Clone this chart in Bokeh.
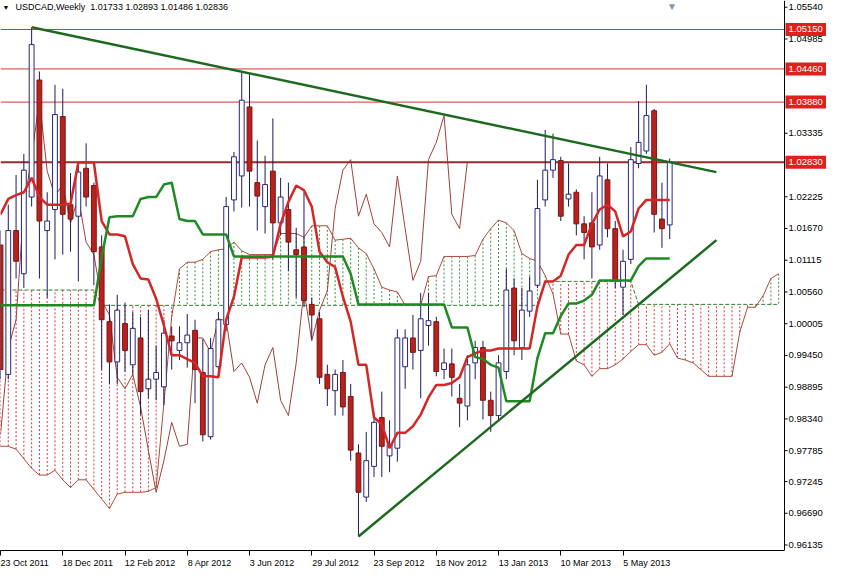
from bokeh.plotting import figure
from bokeh.models import Range1d, FixedTicker, Span
from bokeh.core.properties import value
from bokeh.embed import file_html
from bokeh.resources import INLINE

# ---------------- data (weekly bars, bar index 0 = 23 Oct 2011) ----------------
date_ticks = [0, 8, 16, 24, 32, 40, 48, 56, 64, 72, 80]
date_labels = ["23 Oct 2011", "18 Dec 2011", "12 Feb 2012", "8 Apr 2012", "3 Jun 2012",
               "29 Jul 2012", "23 Sep 2012", "18 Nov 2012", "13 Jan 2013", "10 Mar 2013", "5 May 2013"]

opens = [1.01382, 0.99119, 1.01634, 1.00879, 1.02220, 1.04266, 1.01634, 1.02002, 1.03628, 1.02086,
         1.01885, 1.02723, 1.02421, 1.01348, 1.00041, 0.99337, 1.00007, 0.99286, 0.99756, 0.98867,
         0.99035, 0.98901, 0.99790, 0.99538, 0.99672, 0.99890, 0.99152, 0.98029, 0.99253, 0.99990,
         1.02170, 1.02589, 1.03796, 1.02472, 1.02053, 1.02673, 1.01768, 1.02002, 1.01298, 1.01348,
         1.00343, 1.00091, 0.99119, 0.98834, 0.99152, 0.98733, 0.97744, 0.96973, 0.97510, 0.98364,
         0.97694, 0.97828, 0.99253, 0.99756, 0.99538, 0.99974, 1.00041, 0.99203, 0.99303, 0.98700,
         0.98566, 0.99320, 0.99588, 0.98666, 0.98398, 0.99169, 1.00628, 0.99588, 1.00225, 1.00678,
         1.02170, 1.02690, 1.02857, 1.02187, 1.02304, 1.01751, 1.01768, 1.01382, 1.02522, 1.01667,
         1.00644, 1.01131, 1.02807, 1.03025, 1.03729, 1.01835, 1.01733]
highs = [1.01634, 1.02086, 1.02606, 1.02975, 1.05188, 1.04416, 1.02304, 1.04182, 1.04115, 1.02640,
         1.02807, 1.03159, 1.02472, 1.01550, 1.00343, 1.00510, 1.00376, 1.00209, 1.00125, 1.00242,
         0.99622, 1.00074, 0.99957, 0.99957, 1.00175, 1.00074, 0.99739, 0.99756, 1.00209, 1.02220,
         1.03008, 1.04400, 1.04366, 1.03209, 1.02941, 1.03595, 1.02556, 1.02472, 1.01684, 1.02304,
         1.00460, 1.00209, 0.99286, 0.99203, 0.99370, 0.98951, 0.97895, 0.98113, 0.98449, 0.98817,
         0.98314, 0.99907, 0.99907, 1.00158, 1.00544, 1.00544, 1.00125, 0.99571, 0.99571, 0.98951,
         0.99454, 0.99706, 0.99706, 0.98817, 0.99454, 1.00963, 1.00795, 1.00628, 1.00829, 1.02522,
         1.03394, 1.03327, 1.02924, 1.02807, 1.02354, 1.01885, 1.02304, 1.02924, 1.02807, 1.01801,
         1.01298, 1.03092, 1.03897, 1.04182, 1.03763, 1.02472, 1.02893]
lows = [0.99035, 0.99035, 1.00795, 1.00628, 1.02053, 1.00795, 1.00460, 1.01131, 1.01214, 1.01265,
        1.00745, 1.02053, 1.00678, 0.99203, 0.98951, 0.98951, 0.99169, 0.99119, 0.98415, 0.98700,
        0.98666, 0.98582, 0.99203, 0.99370, 0.99236, 0.98616, 0.97946, 0.97979, 0.99119, 0.99874,
        1.01969, 1.02036, 1.02053, 1.01634, 1.01583, 1.01131, 1.01550, 1.00929, 1.00460, 1.00293,
        0.99739, 0.98951, 0.98566, 0.98398, 0.98398, 0.97610, 0.96285, 0.96889, 0.97325, 0.97325,
        0.97409, 0.97593, 0.98867, 0.99203, 0.98700, 0.99622, 0.99085, 0.99035, 0.98733, 0.98197,
        0.98314, 0.99035, 0.98331, 0.98113, 0.98314, 0.99035, 0.99454, 0.99370, 1.00125, 1.00628,
        1.02053, 1.02556, 1.01801, 1.02053, 1.01550, 1.01131, 1.00795, 1.01298, 1.01516, 1.00628,
        1.00158, 1.01047, 1.02723, 1.02975, 1.01600, 1.01332, 1.01486]
closes = [0.99203, 1.01634, 1.01097, 1.02690, 1.04886, 1.01801, 1.01801, 1.03662, 1.01918, 1.01835,
          1.02656, 1.02220, 1.01265, 1.00074, 0.99337, 1.00242, 0.99538, 0.99923, 0.98817, 0.99035,
          0.99152, 0.99840, 0.99706, 0.99672, 0.99806, 0.99203, 0.98063, 0.99571, 1.00074, 1.02053,
          1.02924, 1.03914, 1.02673, 1.02237, 1.02438, 1.01768, 1.02220, 1.01432, 1.01214, 1.00410,
          1.00158, 0.99068, 0.98867, 0.99119, 0.98549, 0.97794, 0.97057, 0.97610, 0.98281, 0.97861,
          0.97895, 0.99756, 0.99756, 0.99504, 1.00091, 1.00058, 0.99169, 0.99320, 0.99068, 0.98616,
          0.99286, 0.99588, 0.98666, 0.98398, 0.99320, 1.00594, 0.99706, 1.00242, 1.00577, 1.02019,
          1.02690, 1.02874, 1.01885, 1.02270, 1.01751, 1.01600, 1.01348, 1.02589, 1.01667, 1.00762,
          1.01097, 1.02874, 1.03176, 1.03645, 1.01918, 1.01667, 1.02836]

tenkan = [1.01918, 1.02187, 1.02254, 1.02304, 1.02556, 1.02220, 1.02086, 1.02086, 1.02086, 1.02103,
          1.02824, 1.02824, 1.02824, 1.01801, 1.01566, 1.01566, 1.01533, 1.01047, 1.00795, 1.00778,
          1.00443, 0.99974, 0.99454, 0.99454, 0.99387, 0.99320, 0.99085, 0.99085, 0.99068, 1.00074,
          1.00477, 1.01164, 1.01164, 1.01164, 1.01164, 1.01181, 1.01751, 1.02136, 1.02421, 1.02338,
          1.02053, 1.01265, 1.01080, 1.00996, 1.00477, 1.00041, 0.99286, 0.99286, 0.98364, 0.98247,
          0.97828, 0.98096, 0.98096, 0.98213, 0.98415, 0.98716, 0.98934, 0.98934, 0.98968, 0.99068,
          0.99420, 0.99488, 0.99538, 0.99538, 0.99571, 0.99571, 0.99571, 0.99571, 0.99571, 1.00309,
          1.00745, 1.00745, 1.00845, 1.01214, 1.01382, 1.01382, 1.01751, 1.02002, 1.02086, 1.01969,
          1.01533, 1.01617, 1.02019, 1.02170, 1.02170, 1.02170, 1.02170]
kijun = [1.00326, 1.00326, 1.00326, 1.00326, 1.00326, 1.00326, 1.00326, 1.00326, 1.00326, 1.00326,
         1.00326, 1.00326, 1.00326, 1.01164, 1.01868, 1.01885, 1.01885, 1.01885, 1.02187, 1.02220,
         1.02220, 1.02438, 1.02472, 1.01835, 1.01801, 1.01801, 1.01566, 1.01566, 1.01566, 1.01566,
         1.01181, 1.01181, 1.01181, 1.01181, 1.01181, 1.01181, 1.01181, 1.01181, 1.01181, 1.01181,
         1.01181, 1.01181, 1.01181, 1.01181, 1.01181, 1.00879, 1.00343, 1.00343, 1.00343, 1.00343,
         1.00343, 1.00343, 1.00343, 1.00343, 1.00343, 1.00343, 1.00343, 1.00343, 0.99940, 0.99940,
         0.99940, 0.99420, 0.99387, 0.99286, 0.99236, 0.98649, 0.98649, 0.98649, 0.98649, 0.99404,
         0.99840, 0.99840, 1.00141, 1.00359, 1.00359, 1.00410, 1.00510, 1.00762, 1.00762, 1.00762,
         1.00762, 1.00762, 1.01013, 1.01147, 1.01147, 1.01147, 1.01147]
# Senkou spans (drawn 26 bars ahead, so they run past the last candle)
span_a = [0.97861, 0.97861, 0.97811, 0.97643, 0.97476, 0.97358, 0.97358, 0.97442, 0.97275, 0.97140,
          0.97275, 0.97275, 0.97107, 0.96939, 0.96772, 0.97023, 0.97057, 0.97057, 0.97057, 0.97073,
          0.97140, 0.98616, 1.00125, 1.00963, 1.01080, 1.01080, 1.01130, 1.01265, 1.01298, 1.01315,
          1.01432, 1.01281, 1.01214, 1.01214, 1.01214, 1.01214, 1.01583, 1.01583, 1.01583, 1.01516,
          1.01717, 1.01717, 1.01717, 1.01466, 1.01482, 1.01499, 1.01332, 1.01231, 1.00963, 1.00644,
          1.00594, 1.00560, 1.00326, 1.00343, 1.00326, 1.00829, 1.00845, 1.01181, 1.01181, 1.01181,
          1.01181, 1.01198, 1.01482, 1.01667, 1.01818, 1.01768, 1.01633, 1.01231, 1.01147, 1.01097,
          1.00845, 1.00527, 0.99823, 0.99823, 0.99353, 0.99286, 0.99085, 0.99219, 0.99219, 0.99286,
          0.99387, 0.99521, 0.99638, 0.99638, 0.99454, 0.99504, 0.99655, 0.99404, 0.99370, 0.99320,
          0.99203, 0.99085, 0.99085, 0.99085, 0.99085, 0.99856, 1.00292, 1.00292, 1.00493, 1.00795,
          1.00879]
span_b = [1.00594, 1.00594, 1.00594, 1.00594, 1.00594, 1.00594, 1.00594, 1.00594, 1.00594, 1.00594,
          1.00594, 1.00594, 1.00594, 1.00326, 1.00326, 1.00326, 1.00326, 1.00326, 1.00326, 1.00326,
          1.00326, 1.00326, 1.00326, 1.00326, 1.00326, 1.00326, 1.00326, 1.00326, 1.00326, 1.00326,
          1.00326, 1.00326, 1.00326, 1.00326, 1.00326, 1.00326, 1.00326, 1.00326, 1.00326, 1.00326,
          1.00326, 1.00326, 1.00326, 1.00326, 1.00326, 1.00326, 1.00326, 1.00326, 1.00326, 1.00326,
          1.00326, 1.00326, 1.00326, 1.00326, 1.00326, 1.00326, 1.00326, 1.00326, 1.00326, 1.00326,
          1.00326, 1.00326, 1.00326, 1.00326, 1.00326, 1.00326, 1.00326, 1.00326, 1.00326, 1.00326,
          1.00745, 1.00745, 1.00745, 1.00745, 1.00745, 1.00745, 1.00745, 1.00745, 1.00745, 1.00745,
          1.00745, 1.00745, 1.00343, 1.00343, 1.00343, 1.00343, 1.00343, 1.00343, 1.00343, 1.00343,
          1.00343, 1.00343, 1.00343, 1.00343, 1.00343, 1.00343, 1.00343, 1.00343, 1.00343, 1.00343,
          1.00343]
chikou_shift = 26

levels = [1.05150, 1.04460, 1.03880, 1.02830]
level_labels = ["1.05150", "1.04460", "1.03880", "1.02830"]

down_trend_x = [4, 92]
down_trend_y = [1.05188, 1.02656]
up_trend_x = [46, 92]
up_trend_y = [0.96285, 1.01466]

price_ticks = [1.05540, 1.04985, 1.03335, 1.02225, 1.01670, 1.01115, 1.00560, 1.00005,
               0.99450, 0.98895, 0.98340, 0.97785, 0.97245, 0.96690, 0.96135]
price_tick_labels = ["1.05540", "1.04985", "1.03335", "1.02225", "1.01670", "1.01115", "1.00560",
                     "1.00005", "0.99450", "0.98895", "0.98340", "0.97785", "0.97245", "0.96690",
                     "0.96135"]
header = "USDCAD,Weekly\u00a0 1.01733 1.02893 1.01486 1.02836"

# ---------------- geometry ----------------
FONT = "Liberation Sans"
FW, FH = 826, 550          # frame also holds the price scale column on the right
DATA_W = 784               # pixels used by the bars
x_lo, axis_x = 0.0, 100.75 # bar-index span of the bar area
px_per_bar = DATA_W / axis_x
x_hi = FW / px_per_bar
y_lo, y_hi = 0.96039, 1.05657
price_per_px = (y_hi - y_lo) / FH

p = figure(frame_width=FW, frame_height=FH,
           x_range=Range1d(x_lo, x_hi), y_range=Range1d(y_lo, y_hi),
           y_axis_location=None, output_backend="svg", toolbar_location=None,
           min_border_left=0, min_border_top=0, min_border_right=0, min_border_bottom=18,
           background_fill_color="white", border_fill_color="white", outline_line_color=None)
p.grid.visible = False

# x axis with date labels left-aligned on their ticks (padding with no-break spaces)
char_w = {" ": 278, "O": 778, "c": 500, "t": 278, "D": 722, "e": 556, "F": 611, "b": 556,
          "A": 667, "p": 556, "r": 333, "J": 500, "u": 556, "n": 556, "l": 222, "S": 667,
          "N": 722, "o": 556, "v": 500, "a": 556, "M": 833, "y": 500}
def padded(s):
    w = sum(char_w.get(ch, 556) for ch in s)
    return "\u00a0" * int(round(w / 278.0)) + s

overrides = {t: padded(s) for t, s in zip(date_ticks, date_labels)}
overrides[date_ticks[0]] = date_labels[0]   # first label is pushed inside the canvas edge
p.xaxis.ticker = FixedTicker(ticks=date_ticks)
p.xaxis.major_label_overrides = overrides
p.xaxis.bounds = (x_lo, axis_x)
p.xaxis.major_label_text_font = FONT
p.xaxis.major_label_text_font_size = "9px"
p.xaxis.major_label_text_color = "black"
p.xaxis.major_label_standoff = 2
p.xaxis.major_tick_in = 0
p.xaxis.major_tick_out = 5
p.xaxis.minor_tick_line_color = None
p.xaxis.axis_line_color = "black"
p.xaxis.major_tick_line_color = "black"

# ---------------- Ichimoku cloud ----------------
cloud_x = list(range(len(span_a)))
up_i = [i for i in cloud_x if span_a[i] >= span_b[i]]
dn_i = [i for i in cloud_x if span_a[i] < span_b[i]]
p.segment(x0=up_i, x1=up_i, y0=[span_a[i] for i in up_i], y1=[span_b[i] for i in up_i],
          line_color="#3a8f3a", line_width=1, line_dash="2 2")
p.segment(x0=dn_i, x1=dn_i, y0=[span_a[i] for i in dn_i], y1=[span_b[i] for i in dn_i],
          line_color="#d03a3a", line_width=1, line_dash="2 2")
p.line(cloud_x, span_b, line_color="#2f7d2f", line_width=1, line_dash="4 2")
p.line(cloud_x, span_a, line_color="#ad4a3c", line_width=1)

# Chikou span: closes drawn 26 bars back
bars = list(range(len(closes)))
p.line([i - chikou_shift for i in bars[chikou_shift:]], closes[chikou_shift:],
       line_color="#a0403a", line_width=1)

# horizontal levels (only across the bar area)
lv_x0 = [x_lo] * len(levels)
lv_x1 = [axis_x] * len(levels)
p.segment(x0=lv_x0[:3], x1=lv_x1[:3], y0=levels[:3], y1=levels[:3], line_color="#d83434", line_width=1)
p.segment(x0=lv_x0[3:], x1=lv_x1[3:], y0=levels[3:], y1=levels[3:], line_color="#982a2a", line_width=2)

# ---------------- candles ----------------
bull = [i for i in bars if closes[i] >= opens[i]]
bear = [i for i in bars if closes[i] < opens[i]]
p.segment(x0=bars, x1=bars, y0=lows, y1=highs, line_color="#1b1b5e", line_width=1)
p.vbar(x=bull, width=0.62, bottom=[opens[i] for i in bull], top=[closes[i] for i in bull],
       fill_color="white", line_color="#26267a", line_width=1)
p.vbar(x=bear, width=0.62, bottom=[closes[i] for i in bear], top=[opens[i] for i in bear],
       fill_color="#b8221e", line_color="#7a1512", line_width=1)

# Tenkan / Kijun
p.line(bars, tenkan, line_color="#d42626", line_width=2.5)
p.line(bars, kijun, line_color="#1f8a24", line_width=2.5)

# trend lines
p.line(down_trend_x, down_trend_y, line_color="#1c6a20", line_width=2.5)
p.line(up_trend_x, up_trend_y, line_color="#1c6a20", line_width=2.5)

# ---------------- price scale column (right) ----------------
p.add_layout(Span(location=axis_x, dimension="height", line_color="black", line_width=1))
tick_len = 3 / px_per_bar
lab_x = axis_x + 4 / px_per_bar
p.segment(x0=[axis_x] * len(price_ticks), x1=[axis_x + tick_len] * len(price_ticks),
          y0=price_ticks, y1=price_ticks, line_color="black", line_width=1)
p.text(x=[lab_x] * len(price_ticks), y=price_ticks, text=price_tick_labels,
       text_font=value(FONT), text_font_size="9.5px", text_color="black",
       text_align="left", text_baseline="middle")
box_h = 6.5 * price_per_px
p.quad(left=[axis_x + 1 / px_per_bar] * len(levels), right=[x_hi] * len(levels),
       bottom=[lv - box_h for lv in levels], top=[lv + box_h for lv in levels],
       fill_color="#e0201c", line_color=None)
p.text(x=[lab_x] * len(levels), y=levels, text=level_labels,
       text_font=value(FONT), text_font_size="9.5px", text_color="white",
       text_align="left", text_baseline="middle")

# ---------------- header texts (inside the chart, top-left) ----------------
p.text(x=[x_lo + 2 / px_per_bar], y=[price_ticks[0]], text=["\u25BC"],
       text_font=value(FONT), text_font_size="7px", text_color="black",
       text_align="left", text_baseline="middle")
p.text(x=[x_lo + 15 / px_per_bar], y=[price_ticks[0]], text=[header],
       text_font=value(FONT), text_font_size="9px", text_color="black",
       text_align="left", text_baseline="middle")
p.text(x=[86.3], y=[y_hi], text=["\u25BC"], text_font=value(FONT), text_font_size="10px",
       text_color="#8593a6", text_align="center", text_baseline="top")

html = file_html(p, INLINE, title="USDCAD Weekly")
open("out.html", "w").write(html)
